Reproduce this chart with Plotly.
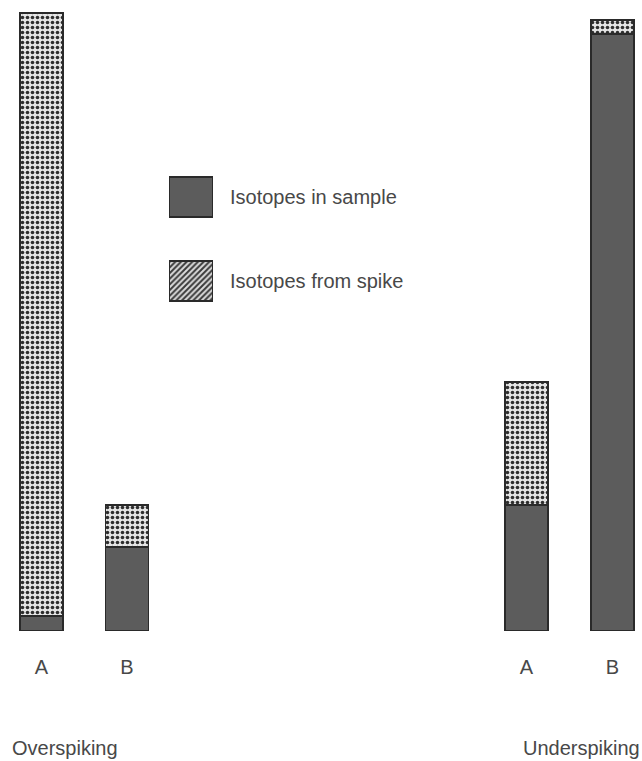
import plotly.graph_objects as go

# Isotope amounts (arbitrary units) for each spiking case
groups = ["Overspiking", "Overspiking", "Underspiking", "Underspiking"]
bar_labels = ["A", "B", "A", "B"]
bar_x = [41.5, 127, 526.5, 612.5]
sample_vals = [2.5, 14.0, 21.0, 99.5]
spike_vals = [100.5, 7.0, 20.5, 2.3]

legend_items = ["Isotopes from spike", "Isotopes in sample"]

SAMPLE_COLOR = "#5c5c5c"
SPIKE_BG = "#e6e6e6"
SPIKE_FG = "#2e2e2e"
EDGE = "#2a2a2a"
TEXT = "#484848"
FONT = "Liberation Sans, Arial, sans-serif"

W, H = 642, 761
BASE_PX = 631  # pixel row of the bar baseline
PX_PER_UNIT = 6.0

fig = go.Figure()

fig.add_trace(go.Bar(
    x=bar_x, y=sample_vals, width=43,
    marker=dict(color=SAMPLE_COLOR, line=dict(color=EDGE, width=1.5)),
    showlegend=False, xaxis="x", yaxis="y",
))
fig.add_trace(go.Bar(
    x=bar_x, y=spike_vals, width=43,
    marker=dict(color=SPIKE_BG, line=dict(color=EDGE, width=1.5),
                pattern=dict(shape=".", bgcolor=SPIKE_BG, fgcolor=SPIKE_FG,
                             size=5, solidity=0.4, fillmode="replace")),
    showlegend=False, xaxis="x", yaxis="y",
))

# Key: two boxes drawn as bars on a small inset axis, labels as tick text
fig.add_trace(go.Bar(
    y=legend_items[:1], x=[1], orientation="h", width=0.476,
    marker=dict(color=SPIKE_BG, line=dict(color=EDGE, width=1.5),
                pattern=dict(shape="/", bgcolor="#dcdcdc", fgcolor="#3a3a3a",
                             size=4, solidity=0.5, fillmode="replace")),
    showlegend=False, xaxis="x2", yaxis="y2",
))
fig.add_trace(go.Bar(
    y=legend_items[1:], x=[1], orientation="h", width=0.476,
    marker=dict(color=SAMPLE_COLOR, line=dict(color=EDGE, width=1.5)),
    showlegend=False, xaxis="x2", yaxis="y2",
))

fig.update_layout(
    width=W, height=H,
    margin=dict(l=0, r=0, t=0, b=0),
    paper_bgcolor="white", plot_bgcolor="rgba(0,0,0,0)",
    barmode="stack",
    font=dict(family=FONT, size=20, color=TEXT),
    xaxis=dict(range=[0, W], domain=[0, 1], showgrid=False, zeroline=False,
               showline=False, tickvals=bar_x, ticktext=bar_labels,
               ticks="outside", ticklen=18, tickcolor="rgba(0,0,0,0)",
               tickfont=dict(size=20, color=TEXT), fixedrange=True),
    yaxis=dict(range=[0, BASE_PX / PX_PER_UNIT], domain=[(H - BASE_PX) / H, 1],
               showgrid=False, zeroline=False, showline=False,
               showticklabels=False, fixedrange=True),
    xaxis2=dict(domain=[169 / W, 213 / W], range=[0, 1], anchor="y2",
                visible=False, fixedrange=True),
    yaxis2=dict(domain=[(H - 323) / H, (H - 155) / H], anchor="x2",
                type="category", categoryarray=legend_items, side="right",
                range=[-0.5, 1.5], showgrid=False, zeroline=False, showline=False,
                ticks="outside", ticklen=12, tickcolor="rgba(0,0,0,0)",
                tickfont=dict(size=20, color=TEXT), fixedrange=True),
    annotations=[
        dict(text="Overspiking", x=10 / W, y=(H - 748) / H, xref="paper", yref="paper",
             xanchor="left", yanchor="middle", showarrow=False,
             font=dict(size=20, color=TEXT)),
        dict(text="Underspiking", x=1, y=(H - 748) / H, xref="paper", yref="paper",
             xanchor="right", yanchor="middle", showarrow=False,
             font=dict(size=20, color=TEXT)),
    ],
)

fig.write_html("out.html")
